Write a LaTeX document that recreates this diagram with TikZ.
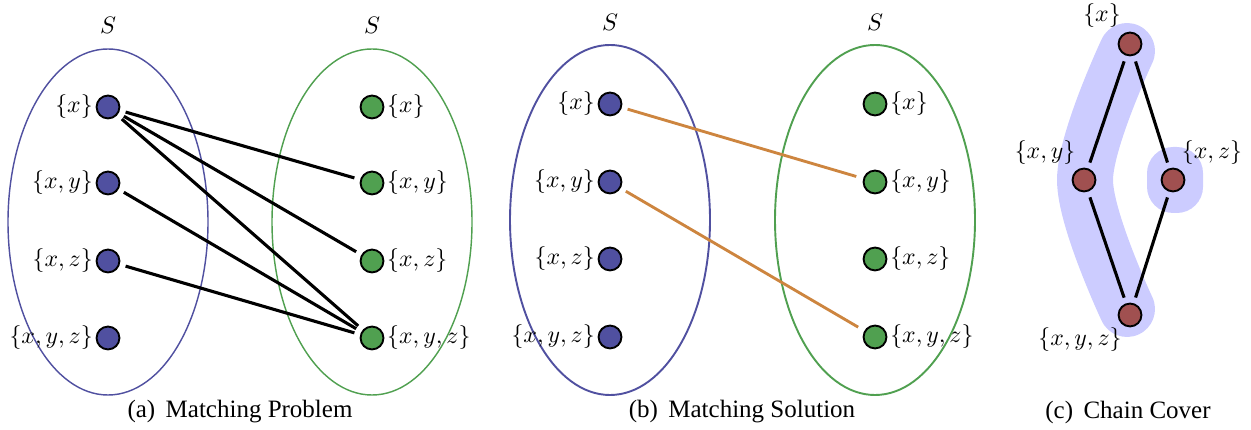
\documentclass[tikz,border=0pt]{standalone}
\usepackage{fontspec}
\setmainfont{Liberation Serif}
\newfontfamily\capfont{Liberation Serif}
\definecolor{nblue}{RGB}{80,80,160}
\definecolor{ngreen}{RGB}{80,160,80}
\definecolor{nred}{RGB}{160,80,80}
\definecolor{hl}{RGB}{204,204,255}
\definecolor{match}{RGB}{205,133,63}
\tikzset{
  dotnode/.style={circle,draw=black,line width=0.8pt,minimum size=9.6pt,inner sep=0pt},
  bnode/.style={dotnode,fill=nblue},
  gnode/.style={dotnode,fill=ngreen},
  rnode/.style={dotnode,fill=nred},
  lab/.style={inner sep=1pt},
  edge/.style={line width=1.3pt,shorten <=2.5pt,shorten >=2.5pt},
  medge/.style={line width=1.2pt,color=match,shorten <=2.5pt,shorten >=3pt},
  setell/.style={line width=0.6pt},
  captext/.style={font=\capfont\fontsize{10.5}{12}\selectfont}
}
\begin{document}
\begin{tikzpicture}[x=0.42pt,y=-0.42pt]
\useasboundingbox (0,0) rectangle (1251,430);
% ---------- (a)
\draw[setell,nblue] (108,222) ellipse [x radius=100,y radius=173];
\draw[setell,ngreen] (372,222) ellipse [x radius=100,y radius=173];
\node (aS1) at (108,25) {$S$};
\node (aS2) at (372,25) {$S$};
\foreach \n/\y/\t in {1/107/{\{x\}},2/183/{\{x,y\}},3/261/{\{x,z\}},4/338/{\{x,y,z\}}}{
  \node[bnode,label={[lab]left:$\t$}] (aL\n) at (108,\y) {};
  \node[gnode,label={[lab]right:$\t$}] (aR\n) at (372,\y) {};
}
\draw[edge] (aL1) -- (aR2);
\draw[edge] (aL1) -- (aR3);
\draw[edge] (aL1) -- (aR4);
\draw[edge] (aL2) -- (aR4);
\draw[edge] (aL3) -- (aR4);
\node[captext] (capa) at (240,412) {(a)\, Matching Problem};
% ---------- (b)
\draw[setell,line width=0.8pt,nblue] (610,220) ellipse [x radius=100,y radius=175];
\draw[setell,line width=0.8pt,ngreen] (875,220) ellipse [x radius=100,y radius=175];
\node (bS1) at (610,22) {$S$};
\node (bS2) at (875,22) {$S$};
\foreach \n/\y/\t in {1/104/{\{x\}},2/182/{\{x,y\}},3/259/{\{x,z\}},4/337/{\{x,y,z\}}}{
  \node[bnode,label={[lab]left:$\t$}] (bL\n) at (610,\y) {};
  \node[gnode,label={[lab]right:$\t$}] (bR\n) at (875,\y) {};
}
\draw[medge] (bL1) -- (bR2);
\draw[medge] (bL2) -- (bR4);
\node[captext] (capb) at (742,412) {(b)\, Matching Solution};
% ---------- (c)
\draw[hl,line width=23.5pt,line cap=round] plot[smooth,tension=0.55] coordinates {(1127,51) (1085,180) (1127,309)};
\fill[hl,rounded corners=11pt] (1147,147) rectangle (1203,213);
\node[rnode] (c1) at (1130,44) {};
\node[rnode] (c2) at (1084,180) {};
\node[rnode] (c3) at (1173,180) {};
\node[rnode] (c4) at (1130,315) {};
\node (l1) at (1102,16) {$\{x\}$};
\node (l2) at (1045,153) {$\{x,y\}$};
\node (l3) at (1212,153) {$\{x,z\}$};
\node (l4) at (1080,340) {$\{x,y,z\}$};
\draw[edge] (c1) -- (c2);
\draw[edge] (c1) -- (c3);
\draw[edge] (c2) -- (c4);
\draw[edge] (c3) -- (c4);
\node[captext] (capc) at (1128,412) {(c)\, Chain Cover};
\end{tikzpicture}
\end{document}
